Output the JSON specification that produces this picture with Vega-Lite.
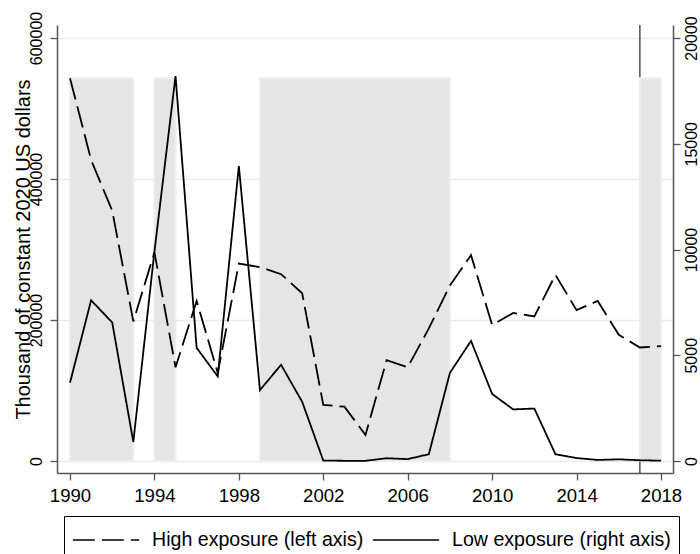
{
  "$schema": "https://vega.github.io/schema/vega-lite/v6.json",
  "width": 616,
  "height": 448,
  "autosize": "none",
  "padding": {"left": 57, "top": 25, "right": 27, "bottom": 81},
  "background": "white",
  "config": {
    "view": {"stroke": null},
    "font": "Liberation Sans",
    "axis": {
      "domainColor": "#555555",
      "domainWidth": 1.5,
      "tickColor": "#555555",
      "tickWidth": 1.3,
      "tickSize": 7,
      "labelColor": "black",
      "titleColor": "black",
      "labelFlush": false,
      "labelOverlap": false
    }
  },
  "datasets": {
    "marker": [{"year": 2017}],
    "shade": [
      {"start": 1990, "end": 1993},
      {"start": 1994, "end": 1995},
      {"start": 1999, "end": 2008},
      {"start": 2017, "end": 2018}
    ],
    "series": [
      {"year": 1990, "series": "High exposure (left axis)", "value": 543000},
      {"year": 1991, "series": "High exposure (left axis)", "value": 427000},
      {"year": 1992, "series": "High exposure (left axis)", "value": 355000},
      {"year": 1993, "series": "High exposure (left axis)", "value": 198000},
      {"year": 1994, "series": "High exposure (left axis)", "value": 296000},
      {"year": 1995, "series": "High exposure (left axis)", "value": 133000},
      {"year": 1996, "series": "High exposure (left axis)", "value": 227000},
      {"year": 1997, "series": "High exposure (left axis)", "value": 125000},
      {"year": 1998, "series": "High exposure (left axis)", "value": 280000},
      {"year": 1999, "series": "High exposure (left axis)", "value": 275000},
      {"year": 2000, "series": "High exposure (left axis)", "value": 265000},
      {"year": 2001, "series": "High exposure (left axis)", "value": 238000},
      {"year": 2002, "series": "High exposure (left axis)", "value": 79500},
      {"year": 2003, "series": "High exposure (left axis)", "value": 77000},
      {"year": 2004, "series": "High exposure (left axis)", "value": 37000},
      {"year": 2005, "series": "High exposure (left axis)", "value": 143000},
      {"year": 2006, "series": "High exposure (left axis)", "value": 133000},
      {"year": 2007, "series": "High exposure (left axis)", "value": 188000},
      {"year": 2008, "series": "High exposure (left axis)", "value": 249000},
      {"year": 2009, "series": "High exposure (left axis)", "value": 292000},
      {"year": 2010, "series": "High exposure (left axis)", "value": 193000},
      {"year": 2011, "series": "High exposure (left axis)", "value": 210000},
      {"year": 2012, "series": "High exposure (left axis)", "value": 205000},
      {"year": 2013, "series": "High exposure (left axis)", "value": 264000},
      {"year": 2014, "series": "High exposure (left axis)", "value": 214000},
      {"year": 2015, "series": "High exposure (left axis)", "value": 227000},
      {"year": 2016, "series": "High exposure (left axis)", "value": 179000},
      {"year": 2017, "series": "High exposure (left axis)", "value": 161000},
      {"year": 2018, "series": "High exposure (left axis)", "value": 163000},
      {"year": 1990, "series": "Low exposure (right axis)", "value": 3700},
      {"year": 1991, "series": "Low exposure (right axis)", "value": 7600},
      {"year": 1992, "series": "Low exposure (right axis)", "value": 6550},
      {"year": 1993, "series": "Low exposure (right axis)", "value": 900},
      {"year": 1994, "series": "Low exposure (right axis)", "value": 9900},
      {"year": 1995, "series": "Low exposure (right axis)", "value": 18200},
      {"year": 1996, "series": "Low exposure (right axis)", "value": 5350},
      {"year": 1997, "series": "Low exposure (right axis)", "value": 4000},
      {"year": 1998, "series": "Low exposure (right axis)", "value": 13950},
      {"year": 1999, "series": "Low exposure (right axis)", "value": 3350},
      {"year": 2000, "series": "Low exposure (right axis)", "value": 4550},
      {"year": 2001, "series": "Low exposure (right axis)", "value": 2800},
      {"year": 2002, "series": "Low exposure (right axis)", "value": 20},
      {"year": 2003, "series": "Low exposure (right axis)", "value": 10},
      {"year": 2004, "series": "Low exposure (right axis)", "value": 10},
      {"year": 2005, "series": "Low exposure (right axis)", "value": 130},
      {"year": 2006, "series": "Low exposure (right axis)", "value": 90},
      {"year": 2007, "series": "Low exposure (right axis)", "value": 320},
      {"year": 2008, "series": "Low exposure (right axis)", "value": 4170},
      {"year": 2009, "series": "Low exposure (right axis)", "value": 5680},
      {"year": 2010, "series": "Low exposure (right axis)", "value": 3170},
      {"year": 2011, "series": "Low exposure (right axis)", "value": 2440},
      {"year": 2012, "series": "Low exposure (right axis)", "value": 2480},
      {"year": 2013, "series": "Low exposure (right axis)", "value": 320},
      {"year": 2014, "series": "Low exposure (right axis)", "value": 140},
      {"year": 2015, "series": "Low exposure (right axis)", "value": 50},
      {"year": 2016, "series": "Low exposure (right axis)", "value": 80},
      {"year": 2017, "series": "Low exposure (right axis)", "value": 35},
      {"year": 2018, "series": "Low exposure (right axis)", "value": 15}
    ]
  },
  "layer": [
    {
      "layer": [
        {
          "data": {"name": "marker"},
          "mark": {"type": "rule", "color": "#333333", "strokeWidth": 1.3},
          "encoding": {
            "x": {
              "field": "year",
              "type": "quantitative",
              "scale": {"domain": [1989.384, 2018.569], "nice": false, "zero": false},
              "axis": {
                "values": [1990, 1994, 1998, 2002, 2006, 2010, 2014, 2018],
                "format": "d",
                "title": null,
                "grid": false,
                "labelFontSize": 18.6,
                "labelPadding": 6
              }
            }
          }
        },
        {
          "data": {"name": "shade"},
          "mark": {"type": "rect", "fill": "#e5e5e5", "stroke": "#eeeeee", "strokeWidth": 2},
          "encoding": {
            "x": {"field": "start", "type": "quantitative"},
            "x2": {"field": "end"},
            "y": {
              "datum": 0,
              "type": "quantitative",
              "scale": {"domain": [-17021, 618440], "nice": false, "zero": false},
              "axis": {
                "orient": "left",
                "values": [0, 200000, 400000, 600000],
                "format": "d",
                "grid": true,
                "gridColor": "#ebebeb",
                "gridWidth": 1.5,
                "labelAngle": -90,
                "labelAlign": "center",
                "labelBaseline": "alphabetic",
                "labelPadding": 9,
                "labelFontSize": 16,
                "title": "Thousand of constant 2020 US dollars",
                "titleFontSize": 20,
                "titleFontWeight": "normal",
                "titleX": -28,
                "titleY": 224,
                "titleAngle": -90,
                "titleAlign": "center",
                "titleBaseline": "alphabetic"
              }
            },
            "y2": {"datum": 543000}
          }
        },
        {
          "data": {"name": "series"},
          "transform": [{"filter": "datum.series === 'High exposure (left axis)'"}],
          "mark": {"type": "line", "color": "black", "strokeWidth": 1.8},
          "encoding": {
            "x": {"field": "year", "type": "quantitative"},
            "y": {"field": "value", "type": "quantitative"},
            "strokeDash": {
              "field": "series",
              "type": "nominal",
              "scale": {
                "domain": ["High exposure (left axis)", "Low exposure (right axis)"],
                "range": [[22, 7], [1, 0]]
              },
              "legend": {
                "orient": "none",
                "legendX": 7,
                "legendY": 491,
                "direction": "horizontal",
                "columns": 2,
                "title": null,
                "symbolType": "stroke",
                "symbolSize": 4400,
                "symbolStrokeWidth": 1.6,
                "symbolStrokeColor": "black",
                "labelFontSize": 19.6,
                "labelColor": "black",
                "labelOffset": 12,
                "labelLimit": 400,
                "columnPadding": 8,
                "padding": 8,
                "strokeColor": "black",
                "clipHeight": 32
              }
            }
          }
        }
      ]
    },
    {
      "data": {"name": "series"},
      "transform": [{"filter": "datum.series === 'Low exposure (right axis)'"}],
      "mark": {"type": "line", "color": "black", "strokeWidth": 1.8},
      "encoding": {
        "x": {"field": "year", "type": "quantitative"},
        "y": {
          "field": "value",
          "type": "quantitative",
          "scale": {"domain": [-567, 20615], "nice": false, "zero": false},
          "axis": {
            "orient": "right",
            "values": [0, 5000, 10000, 15000, 20000],
            "format": "d",
            "grid": false,
            "labelAngle": -90,
            "labelAlign": "center",
            "labelBaseline": "alphabetic",
            "labelPadding": 16,
            "labelFontSize": 16,
            "title": null
          }
        },
        "strokeDash": {"field": "series", "type": "nominal"}
      }
    }
  ],
  "resolve": {"scale": {"y": "independent"}}
}
